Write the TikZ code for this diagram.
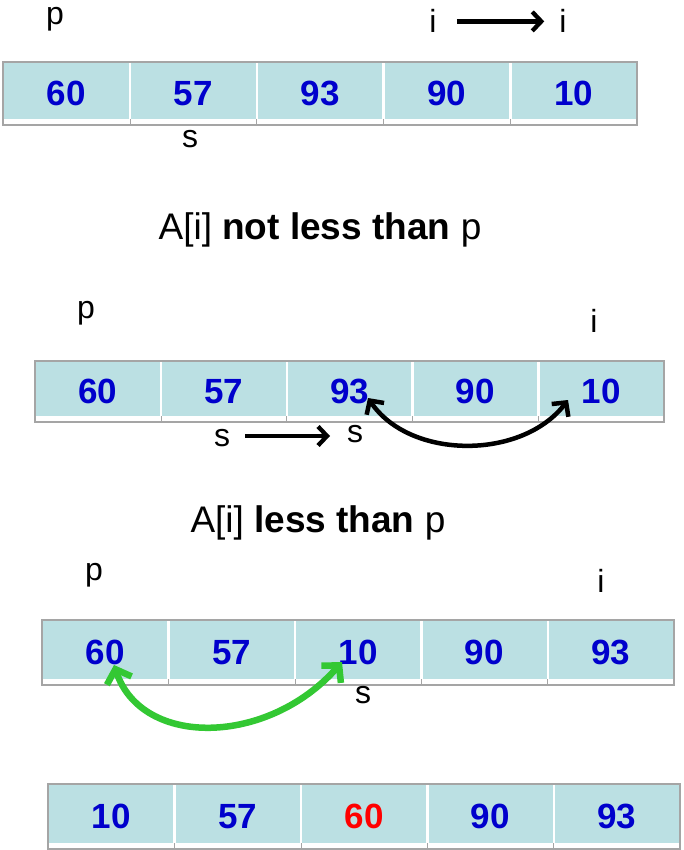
\documentclass[tikz,border=0pt]{standalone}
\usepackage{fontspec}
\setmainfont{Liberation Sans}
\usetikzlibrary{arrows.meta,calc}
\definecolor{cellfill}{RGB}{187,224,227}
\definecolor{boxline}{RGB}{165,165,165}
\definecolor{numblue}{RGB}{0,0,204}
\definecolor{swapgr}{RGB}{51,200,51}
\definecolor{numred}{RGB}{255,0,0}

\newcommand\arrayrow[6]{%
  \path[outerbox] (#2,#3) rectangle (#4,#5);
  \foreach \v [count=\k] in {#6} {%
    \pgfmathsetmacro\cw{(#4-#2)/5}%
    \pgfmathsetmacro\xa{#2+(\k-1)*\cw+1.2}%
    \pgfmathsetmacro\cx{#2+(\k-0.5)*\cw}%
    \pgfmathsetmacro\cy{(#3+#5-5)/2+2.5}%
    \pgfmathsetmacro\ch{#5-#3-7}%
    \pgfmathsetmacro\cwi{\cw-2.4}%
    \node[cellbox,anchor=north west,minimum width=\cwi pt,minimum height=\ch pt] (#1c\k) at (\xa,#3+1) {};
    \node[num] (#1n\k) at (\cx,\cy) {\v};
    \ifnum\k>1
      \pgfmathsetmacro\xd{#2+(\k-1)*\cw}%
      \draw[boxline,line width=0.6pt] (\xd,#5-6) -- (\xd,#5);
    \fi
  }%
}

\begin{document}
\begin{tikzpicture}[x=1pt,y=-1pt,
  outerbox/.style={draw=boxline,line width=1.3pt,fill=white},
  cellbox/.style={fill=cellfill,draw=none,inner sep=0pt},
  num/.style={font=\fontsize{35}{40}\selectfont\bfseries,text=numblue,inner sep=0pt},
  lbl/.style={font=\fontsize{32}{38}\selectfont,anchor=base,inner sep=0pt},
  ttl/.style={font=\fontsize{37}{43}\selectfont,anchor=base,inner sep=0pt},
  movearrow/.style={line width=4.3pt,-{Straight Barb[length=9pt,width=19pt]}},
  swapblk/.style={line width=4.5pt,{Straight Barb[length=10pt,width=21pt]}-{Straight Barb[length=10pt,width=21pt]}},
  swapgrn/.style={draw=swapgr,line width=6.5pt,{Straight Barb[length=12pt,width=26pt]}-{Straight Barb[length=12pt,width=26pt]}}
]
\useasboundingbox (0,0) rectangle (683,850);
\fill[white] (0,0) rectangle (683,850);

% ---------- Row 1 ----------
\arrayrow{ra}{3}{62}{637}{125}{60,57,93,90,10}
\node[lbl] (pa) at (55,25) {p};
\node[lbl] (ia1) at (433,33) {i};
\node[lbl] (ia2) at (563,33) {i};
\node[lbl] (sa) at (190,148) {s};
\draw[movearrow,shorten <=20pt,shorten >=15pt] (ia1) -- (ia2);

% ---------- Title 1 ----------
\node[ttl] (t1) at (320,240) {A[i] \textbf{not less than} p};

% ---------- Row 2 ----------
\arrayrow{rb}{35}{361}{664}{422}{60,57,93,90,10}
\node[lbl] (pb) at (86,318) {p};
\node[lbl] (ib) at (594,332) {i};
\node[lbl] (sb1) at (222,446) {s};
\node[lbl] (sb2) at (355,442) {s};
\coordinate (sbfrom) at (245,436);
\coordinate (sbto) at (330,436);
\draw[movearrow] (sbfrom) -- (sbto);
\coordinate (bk1) at (368,398);
\coordinate (bk2) at (568,400);
\draw[swapblk] (bk1) .. controls (410,460) and (522,460) .. (bk2);

% ---------- Title 2 ----------
\node[ttl] (t2) at (318,532) {A[i] \textbf{less than} p};

% ---------- Row 3 ----------
\arrayrow{rc}{42}{620}{674}{685}{60,57,10,90,93}
\node[lbl] (pc) at (94,580) {p};
\node[lbl] (ic) at (601,592) {i};
\node[lbl] (sc) at (363,703) {s};
\coordinate (gr1) at (114,665);
\coordinate (gr2) at (342,662);
\draw[swapgrn] (gr1) .. controls (142,748) and (268,746) .. (gr2);

% ---------- Row 4 ----------
\arrayrow{rd}{48}{784}{680}{849}{10,57,{\textcolor{numred}{60}},90,93}
\end{tikzpicture}
\end{document}
